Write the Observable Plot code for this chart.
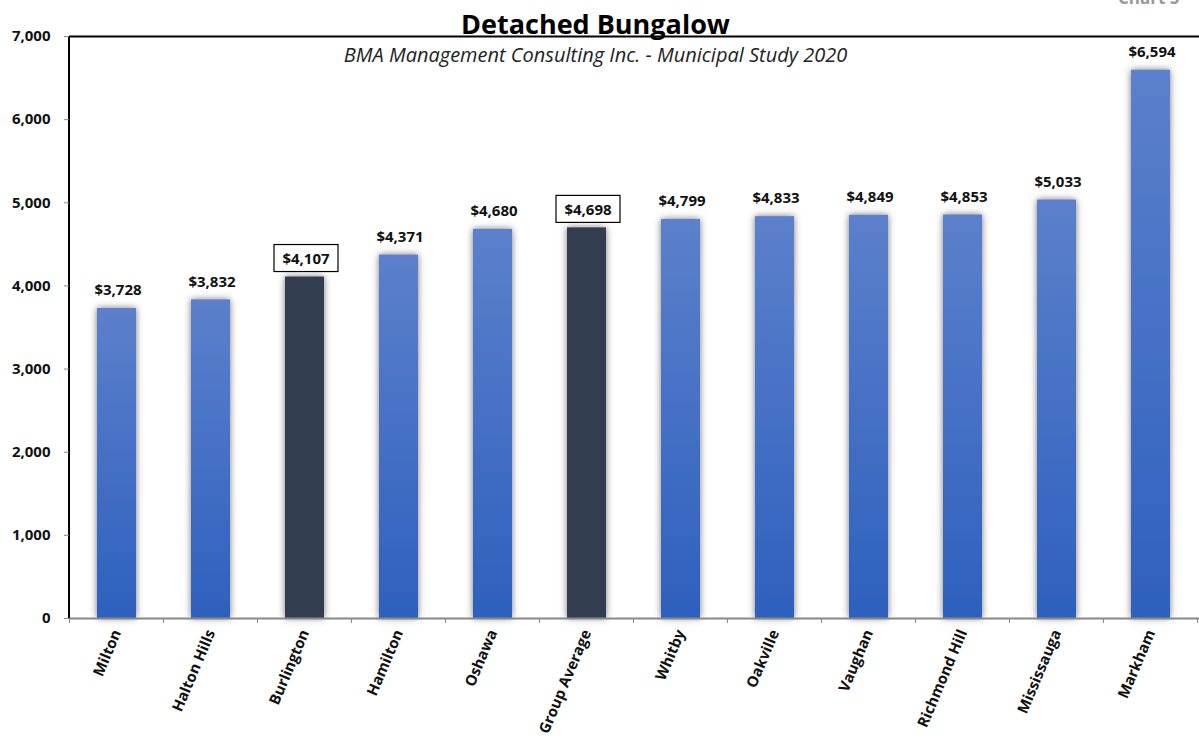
<!DOCTYPE html>
<html>
<head>
<meta charset="utf-8">
<script src="https://cdn.jsdelivr.net/npm/d3@7"></script>
<script src="https://cdn.jsdelivr.net/npm/@observablehq/plot@0.6"></script>
<style>
  html, body { margin: 0; padding: 0; background: #fff; }
  #chart { width: 1199px; height: 745px; overflow: hidden; }
  svg { font-family: "Open Sans", sans-serif; }
</style>
</head>
<body>
<div id="chart"></div>
<script>
const categories = ["Milton", "Halton Hills", "Burlington", "Hamilton", "Oshawa", "Group Average", "Whitby", "Oakville", "Vaughan", "Richmond Hill", "Mississauga", "Markham"];
const values = [3728, 3832, 4107, 4371, 4680, 4698, 4799, 4833, 4849, 4853, 5033, 6594];
const highlighted = ["Burlington", "Group Average"];
const yTicks = [0, 1000, 2000, 3000, 4000, 5000, 6000, 7000];
const title = "Detached Bungalow";
const subtitle = "BMA Management Consulting Inc. - Municipal Study 2020";
const corner = "Chart 5";

const data = categories.map((c, i) => ({category: c, value: values[i], hi: highlighted.includes(c)}));
const regular = data.filter(d => !d.hi);
const hiData = data.filter(d => d.hi);
const fmt = d3.format(",d");

function defsMark() {
  const defs = d3.create("svg:defs");
  const g = defs.append("linearGradient").attr("id", "blueGrad").attr("x1", 0).attr("y1", 0).attr("x2", 0).attr("y2", 1);
  g.append("stop").attr("offset", "0%").attr("stop-color", "#5c80cc");
  g.append("stop").attr("offset", "100%").attr("stop-color", "#2d60bd");
  const f = defs.append("filter").attr("id", "barShadow").attr("x", "-50%").attr("y", "-10%").attr("width", "200%").attr("height", "120%");
  f.append("feDropShadow").attr("dx", 0).attr("dy", 0).attr("stdDeviation", 3.5).attr("flood-color", "#555").attr("flood-opacity", 0.8);
  return defs.node();
}

function frameLines(index, scales, values, dims) {
  const g = d3.create("svg:g");
  const x = scales.x;
  const step = x(categories[1]) - x(categories[0]);
  const bw = x.bandwidth();
  const y0 = dims.height - dims.marginBottom;
  const left = dims.marginLeft;
  const bounds = categories.map(c => x(c) + bw / 2 + step / 2);
  bounds.unshift(x(categories[0]) + bw / 2 - step / 2);
  g.selectAll("line.t").data(bounds).join("line")
    .attr("x1", d => d).attr("x2", d => d)
    .attr("y1", y0).attr("y2", y0 + 5)
    .attr("stroke", "#888").attr("stroke-width", 1);
  g.append("line").attr("x1", left).attr("x2", left)
    .attr("y1", dims.marginTop).attr("y2", y0)
    .attr("stroke", "#000").attr("stroke-width", 2);
  return g.node();
}

const plot = Plot.plot({
  width: 1199,
  height: 745,
  marginTop: 36,
  marginBottom: 127,
  marginLeft: 69,
  marginRight: 0,
  style: {fontFamily: "Open Sans, sans-serif", background: "#fff", overflow: "visible"},
  x: {domain: categories, paddingInner: 0.58, paddingOuter: 0.29, label: null},
  y: {domain: [0, 7000], label: null},
  marks: [
    defsMark,
    Plot.barY(regular, {x: "category", y: "value", fill: "url(#blueGrad)", className: "shadowbars"}),
    Plot.barY(hiData, {x: "category", y: "value", fill: "#333d50", className: "shadowbars"}),
    Plot.ruleY([0], {stroke: "#888", strokeWidth: 2}),
    Plot.ruleY([7000], {stroke: "#000", strokeWidth: 2}),
    frameLines,
    Plot.barY(hiData, {x: "category", y1: "value", y2: "value", insetTop: -32, insetBottom: 5, insetLeft: -11, insetRight: -14, fill: "#fff", stroke: "#000", strokeWidth: 1.2}),
    Plot.text(data, {x: "category", y: "value", text: d => "$" + fmt(d.value), dy: -18, dx: 1, fontWeight: "bold", fontSize: 15, fill: "#111"}),
    Plot.axisY({ticks: yTicks, tickFormat: d => fmt(d), tickSize: 5, tickPadding: 14, fontWeight: "bold", fontSize: 15, stroke: "#888", fill: "#111"}),
    Plot.axisX({tickSize: 0, tickPadding: 12, tickRotate: -67, fontWeight: "bold", fontSize: 15, fill: "#111"}),
    Plot.text([title], {frameAnchor: "top", dx: -39, dy: -22, fontSize: 27, fontWeight: "bold", fill: "#000"}),
    Plot.text([subtitle], {frameAnchor: "top", dx: -39, dy: 11, fontSize: 20, fontStyle: "italic", fill: "#222"}),
    Plot.text([corner], {frameAnchor: "top-right", dx: -20, dy: -45, fontSize: 17, fontWeight: "bold", fill: "#999"})
  ]
});

d3.select(plot).selectAll("g.shadowbars").attr("filter", "url(#barShadow)");
document.getElementById("chart").appendChild(plot);
</script>
</body>
</html>
